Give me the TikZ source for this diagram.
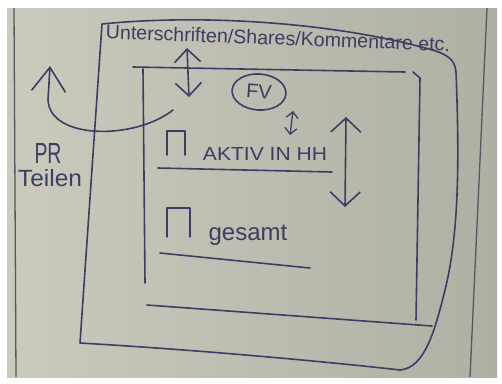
\documentclass[tikz,border=0pt]{standalone}
\usepackage{fontspec}
\setmainfont{Liberation Sans}
\usetikzlibrary{arrows.meta,shapes.geometric}
\definecolor{ink}{RGB}{58,62,98}
\definecolor{paperL}{RGB}{204,202,189}
\definecolor{paperR}{RGB}{176,175,164}
\definecolor{edge}{RGB}{85,86,95}
\begin{document}
\begin{tikzpicture}[x=1pt,y=-1pt,
  pen/.style={draw=ink,line width=1.6pt,line cap=round,line join=round},
  hand/.style={text=ink,inner sep=0pt},
  dblarrow/.style={pen,{Straight Barb[length=13pt,width=26pt]}-{Straight Barb[length=13pt,width=26pt]}},
  smallarrow/.style={pen,line width=1.3pt,{Straight Barb[length=6pt,width=12pt]}-{Straight Barb[length=6pt,width=12pt]}},
  bigarrow/.style={pen,-{Straight Barb[length=24pt,width=34pt]}},
  paperedge/.style={draw=edge,line width=1.3pt}]
\useasboundingbox (0,0) rectangle (502,383);
\fill[white] (0,0) rectangle (502,383);
\shade[left color=paperL,right color=paperR] (7,8) rectangle (497,377);
% paper edges
\coordinate (el1) at (14,8); \coordinate (el2) at (16,377);
\coordinate (er1) at (487,8); \coordinate (er2) at (470,377);
\draw[paperedge] (el1) -- (el2);
\draw[paperedge] (er1) -- (er2);
% outer frame
\draw[pen] (80,343) -- (102,24) .. controls (200,14) and (330,22) .. (425,48)
  .. controls (445,53) and (455,58) .. (456,72)
  .. controls (459,150) and (460,230) .. (445,290)
  .. controls (435,330) and (425,368) .. (400,370)
  .. controls (330,362) and (200,350) .. (80,343);
\node[hand,rotate=-2.1,font=\fontsize{19.6}{22}\selectfont] (title) at (278,38) {Unterschriften/Shares/Kommentare etc.};
% inner box
\draw[pen] (133,67) -- (405,72);
\draw[pen] (413,72) -- (420,78) -- (416,320);
\draw[pen] (143,69) -- (145,283);
\draw[pen] (147,305) -- (432,326);
% FV
\node[pen,ellipse,minimum width=54pt,minimum height=36pt,rotate=-4,hand,font=\fontsize{20}{22}\selectfont] (fv) at (259,92) {FV};
% arrows
\coordinate (a1) at (187,48); \coordinate (a2) at (189,97);
\draw[dblarrow] (a1) -- (a2);
\coordinate (b1) at (346,117); \coordinate (b2) at (345,207);
\draw[dblarrow,{Straight Barb[length=14pt,width=30pt]}-{Straight Barb[length=14pt,width=30pt]}] (b1) -- (b2);
\coordinate (c1) at (293,111); \coordinate (c2) at (290,135);
\draw[smallarrow] (c1) -- (c2);
\coordinate (cs) at (173,110); \coordinate (ct) at (50,66);
\draw[bigarrow] (cs) .. controls (135,140) and (50,140) .. (48,100) -- (ct);
% PR Teilen
\node[hand] (pr) at (48,153) {\resizebox{27pt}{20pt}{PR}};
\node[hand] (teilen) at (50,178) {\resizebox{64pt}{17pt}{Teilen}};
% bars
\draw[pen] (167,155) -- (167,131) -- (185,131) -- (185,155);
\node[hand] (aktiv) at (265,153.5) {\resizebox{124pt}{13pt}{AKTIV IN HH}};
\draw[pen] (158,168) -- (332,172);
\draw[pen] (167,237) -- (167,208) -- (190,208) -- (190,237);
\node[hand,anchor=base,font=\fontsize{24}{26}\selectfont] (ges) at (248,240) {gesamt};
\draw[pen] (160,253) -- (310,268);
\end{tikzpicture}
\end{document}
